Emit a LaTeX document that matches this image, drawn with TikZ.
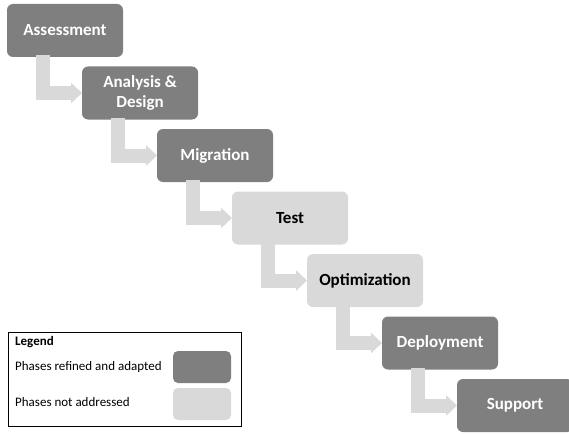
\documentclass[tikz,border=0pt]{standalone}
\usepackage{fontspec}
\setmainfont{Carlito}
\usetikzlibrary{arrows.meta,calc}
\definecolor{phasedark}{HTML}{7F7F7F}
\definecolor{phaselight}{HTML}{D9D9D9}
\tikzset{
  phase/.style={rounded corners=6pt, minimum width=116pt, minimum height=53pt,
    anchor=north west, outer sep=0pt, inner sep=2pt, align=center,
    font=\fontsize{17}{20}\selectfont\bfseries},
  done/.style={phase, fill=phasedark, text=white},
  todo/.style={phase, fill=phaselight, text=black},
  flow/.style={draw=phaselight, line width=14pt,
    -{Triangle[length=11pt,width=20pt]}},
  swatch/.style={rounded corners=5pt, minimum width=58pt, minimum height=32pt,
    outer sep=0pt, anchor=north west},
  legtext/.style={anchor=west, inner sep=0pt, font=\fontsize{13}{15}\selectfont}
}
\begin{document}
\begin{tikzpicture}[x=1pt, y=-1pt]
\useasboundingbox (0,0) rectangle (569,433);
% phases, stepping down to the right
\node[done] (p1) at (7,4)     {Assessment};
\node[done] (p2) at (82,66.5) {Analysis \&\\Design};
\node[done] (p3) at (157,129) {Migration};
\node[todo] (p4) at (232,191.5) {Test};
\node[todo] (p5) at (307,254) {Optimization};
\node[done] (p6) at (382,316.5) {Deployment};
\node[done] (p7) at (457,379) {Support};
% elbow arrows between consecutive phases
\foreach \a/\b in {p1/p2,p2/p3,p3/p4,p4/p5,p5/p6,p6/p7}
  \draw[flow] ([xshift=36pt,yshift=2pt]\a.south west) |- (\b.west);
% legend
\node[draw=black, line width=0.7pt, minimum width=233pt, minimum height=94pt,
  anchor=north west, outer sep=0pt] (legend) at (8.5,332) {};
\node[anchor=north west, inner sep=0pt, font=\fontsize{13}{15}\selectfont\bfseries]
  (legtitle) at (15,336) {Legend};
\node[swatch, fill=phasedark]  (swdark)  at (173,351) {};
\node[swatch, fill=phaselight] (swlight) at (173,388) {};
\node[legtext] (ldark)  at (15,367) {Phases refined and adapted};
\node[legtext] (llight) at (15,402) {Phases not addressed};
\end{tikzpicture}
\end{document}
